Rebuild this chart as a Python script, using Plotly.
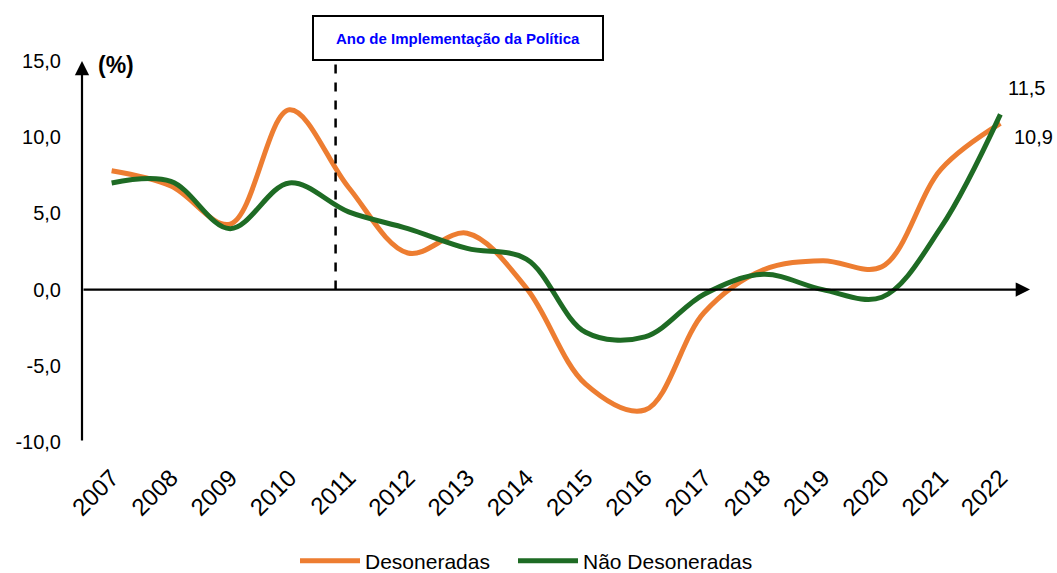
import plotly.graph_objects as go

years = list(range(2007, 2023))
desoneradas = [7.8, 6.8, 4.3, 11.8, 6.7, 2.4, 3.7, 0.1, -6.2, -7.9, -1.5, 1.3, 1.9, 1.5, 7.9, 10.9]
nao_desoneradas = [7.0, 7.1, 4.0, 7.0, 5.1, 4.0, 2.7, 2.0, -2.8, -3.1, -0.3, 1.0, 0.0, -0.5, 4.1, 11.5]
ytick_vals = [-10, -5, 0, 5, 10, 15]
ytick_text = ["-10,0", "-5,0", "0,0", "5,0", "10,0", "15,0"]
policy_label = "Ano de Implementação da Política"
policy_x = 2010.78

ORANGE = "#ED7D31"
GREEN = "#1E6B24"
FONT = "Liberation Sans"

fig = go.Figure()
fig.add_trace(go.Scatter(x=years, y=desoneradas, mode="lines", name="Desoneradas", legend="legend",
                         line=dict(color=ORANGE, width=5, shape="spline", smoothing=1)))
fig.add_trace(go.Scatter(x=years, y=nao_desoneradas, mode="lines", name="Não Desoneradas", legend="legend2",
                         line=dict(color=GREEN, width=5, shape="spline", smoothing=1)))

# axis arrows
fig.add_annotation(x=2006.5, y=15, ax=2006.5, ay=-10, xref="x", yref="y", axref="x", ayref="y",
                   text="", showarrow=True, arrowhead=2, arrowsize=1.3, arrowwidth=2.2, arrowcolor="black")
fig.add_annotation(x=2022.5, y=0, ax=2006.5, ay=0, xref="x", yref="y", axref="x", ayref="y",
                   text="", showarrow=True, arrowhead=2, arrowsize=1.3, arrowwidth=2.2, arrowcolor="black")

# dashed policy line
fig.add_shape(type="line", x0=policy_x, x1=policy_x, y0=0, y1=15, xref="x", yref="y",
              line=dict(color="black", width=2.5, dash="dash"))
fig.add_annotation(x=2012.84, y=1.0, xref="x", yref="paper", yanchor="bottom",
                   text="<b>" + policy_label + "</b>", showarrow=False,
                   font=dict(family=FONT, size=15, color="#0000FF"),
                   bordercolor="black", borderwidth=2, bgcolor="white", width=286, height=40)

fig.add_annotation(x=2006.59, y=15, xref="x", yref="y", xanchor="left", yanchor="middle",
                   text="<b>(%)</b>", showarrow=False, xshift=9, yshift=-4,
                   font=dict(family=FONT, size=23, color="black"))

# end labels
fig.add_annotation(x=years[-1], y=nao_desoneradas[-1], xref="x", yref="y", text="11,5",
                   showarrow=False, xshift=26, yshift=26, font=dict(family=FONT, size=20, color="black"))
fig.add_annotation(x=years[-1], y=desoneradas[-1], xref="x", yref="y", text="10,9",
                   showarrow=False, xshift=33, yshift=-14, font=dict(family=FONT, size=20, color="black"))

legend_common = dict(orientation="h", yref="container", y=(573 - 561) / 573, yanchor="middle",
                     xanchor="left", font=dict(family=FONT, size=21, color="black"), itemwidth=60,
                     bgcolor="rgba(0,0,0,0)")
fig.update_layout(
    width=1057, height=573,
    margin=dict(l=82, r=27, t=61, b=131, autoexpand=False),
    paper_bgcolor="white", plot_bgcolor="white",
    font=dict(family=FONT, size=20, color="black"),
    showlegend=True,
    legend=dict(x=(295 - 82) / 948, **legend_common),
    legend2=dict(x=(513 - 82) / 948, **legend_common),
    xaxis=dict(range=[2006.5, 2022.5], tickvals=years, ticktext=[str(y) for y in years],
               tickangle=-45, showgrid=False, zeroline=False, showline=False, ticks="",
               ticklabelstandoff=16, tickfont=dict(size=24), automargin=False),
    yaxis=dict(range=[-10, 15], tickvals=ytick_vals, ticktext=ytick_text, showgrid=False,
               zeroline=False, showline=False, ticks="", ticklabelstandoff=20,
               tickfont=dict(size=20), automargin=False),
)

fig.write_html("out.html", config={"displayModeBar": False},
               post_script="document.body.style.margin='0';document.body.style.padding='0';")
